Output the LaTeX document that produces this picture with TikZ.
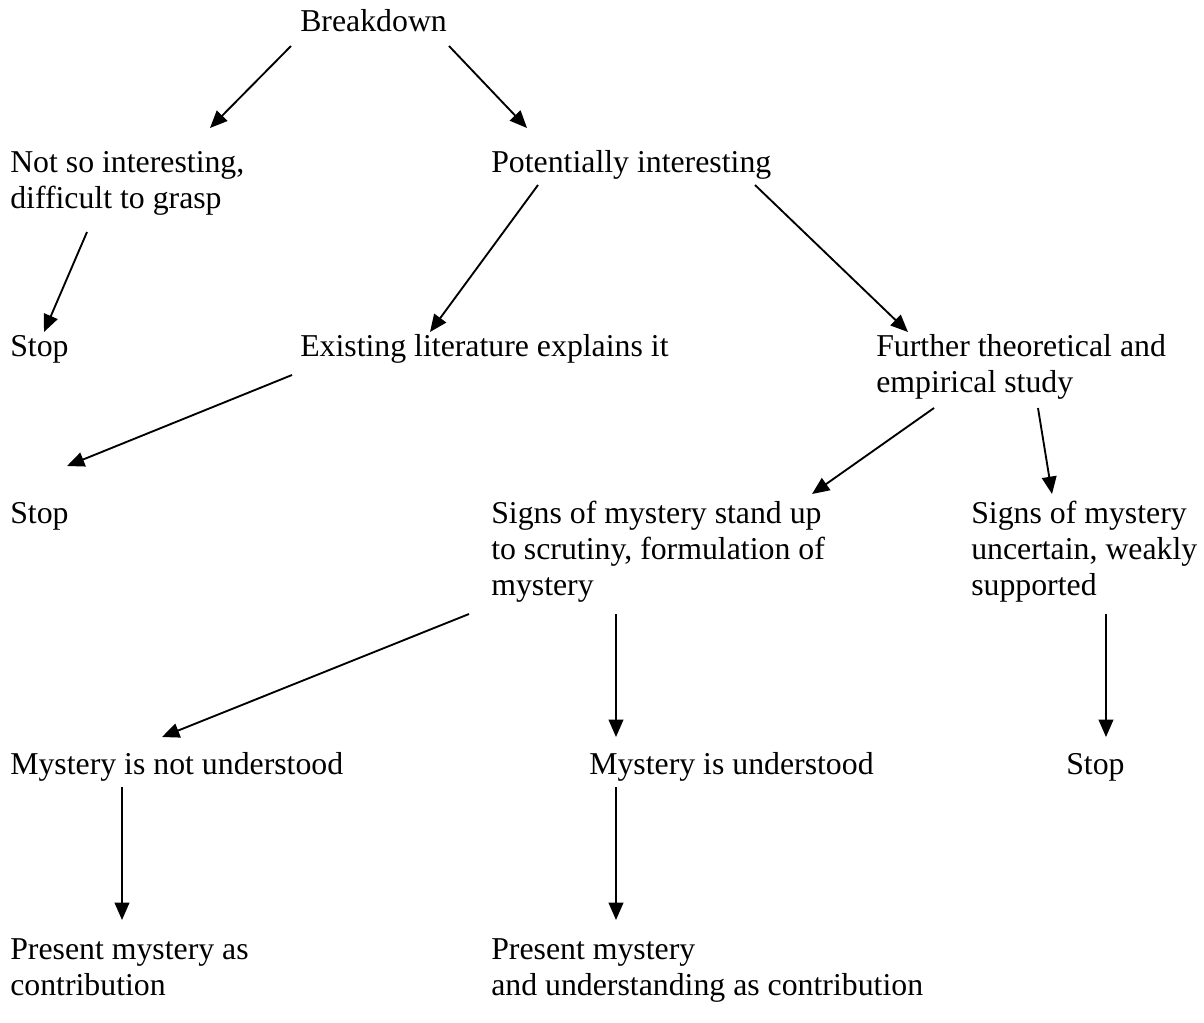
\documentclass[tikz,border=0pt]{standalone}
\usepackage{fontspec}
\setmainfont{Liberation Serif}
\usetikzlibrary{arrows.meta,calc}
\begin{document}
\begin{tikzpicture}[x=0.75pt,y=-0.75pt,
  lbl/.style={anchor=north west,inner sep=0pt,align=left,
    font=\fontsize{23.85pt}{27pt}\selectfont},
  arr/.style={line width=1.4pt,-{Triangle[length=13pt,width=11pt]}}]
\useasboundingbox (0,0) rectangle (1204,1022);
\fill[white] (0,0) rectangle (1204,1022);

% statements of the decision tree
\node[lbl] (bd)  at (300,6)    {\strut Breakdown};
\node[lbl] (ni)  at (10,147)   {\strut Not so interesting,\\difficult to grasp};
\node[lbl] (pi)  at (491,147)  {\strut Potentially interesting};
\node[lbl] (st1) at (10,331)   {\strut Stop};
\node[lbl] (el)  at (300,331)  {\strut Existing literature explains it};
\node[lbl] (ft)  at (876,331)  {\strut Further theoretical and\\empirical study};
\node[lbl] (st2) at (10,498)   {\strut Stop};
\node[lbl] (sm)  at (491,498)  {\strut Signs of mystery stand up\\to scrutiny, formulation of\\mystery};
\node[lbl] (su)  at (971,498)  {\strut Signs of mystery\\uncertain, weakly\\supported};
\node[lbl] (mn)  at (10,749)   {\strut Mystery is not understood};
\node[lbl] (mu)  at (589,749)  {\strut Mystery is understood};
\node[lbl] (st3) at (1066,749) {\strut Stop};
\node[lbl] (pm)  at (10,934)   {\strut Present mystery as\\contribution};
\node[lbl] (pu)  at (491,934)  {\strut Present mystery\\and understanding as contribution};

% branches
\draw[arr] ($(bd.north west)+(-9,40)$)   -- ($(ni.north west)+(200,-19)$);
\draw[arr] ($(bd.north west)+(149,40)$)  -- ($(pi.north west)+(36,-19)$);
\draw[arr] ($(pi.north west)+(47,38)$)   -- ($(el.north west)+(130,1)$);
\draw[arr] ($(pi.north west)+(264,38)$)  -- ($(ft.north west)+(32,1)$);
\draw[arr] ($(ni.north west)+(77,85)$)   -- ($(st1.north west)+(34,1)$);
\draw[arr] ($(el.north west)+(-8,44)$)   -- ($(st2.north west)+(57,-32)$);
\draw[arr] ($(ft.north west)+(58,77)$)   -- ($(sm.north west)+(321,-4)$);
\draw[arr] ($(ft.north west)+(162,77)$)  -- ($(su.north west)+(81,-4)$);
\draw[arr] ($(sm.north west)+(-22,116)$) -- ($(mn.north west)+(152,-12)$);
\draw[arr] ($(sm.north west)+(125,116)$) -- ($(mu.north west)+(27,-12)$);
\draw[arr] ($(su.north west)+(135,116)$) -- ($(st3.north west)+(40,-12)$);
\draw[arr] ($(mn.north west)+(112,38)$)  -- ($(pm.north west)+(112,-14)$);
\draw[arr] ($(mu.north west)+(27,38)$)   -- ($(pu.north west)+(125,-14)$);
\end{tikzpicture}
\end{document}
